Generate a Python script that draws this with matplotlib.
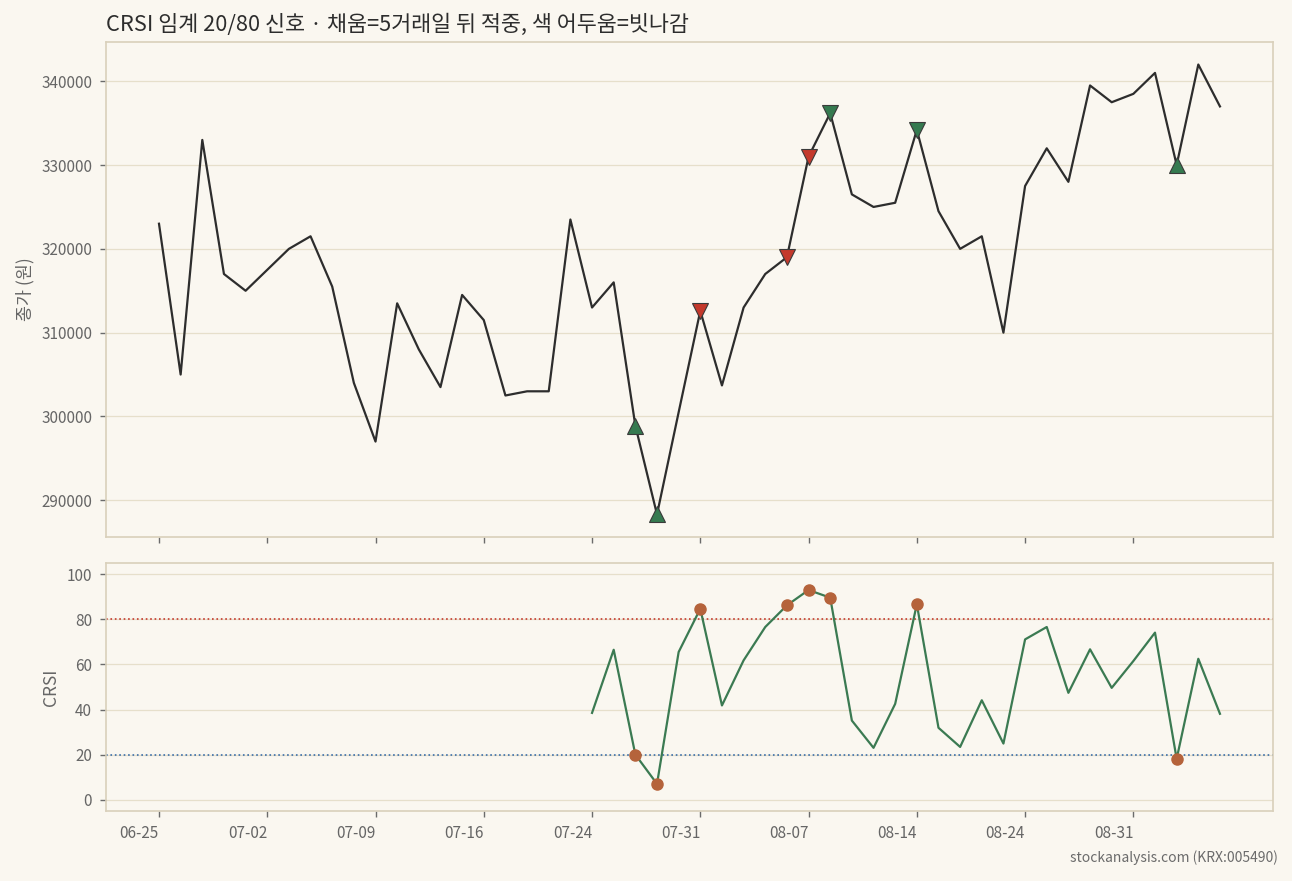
import matplotlib
matplotlib.use("Agg")
import matplotlib.pyplot as plt

plt.rcParams['font.family'] = ['Noto Sans CJK KR', 'DejaVu Sans']

# x축 눈금 (거래일 인덱스 5개마다)
tick_idx = [0, 5, 10, 15, 20, 25, 30, 35, 40, 45]
tick_labels = ['06-25', '07-02', '07-09', '07-16', '07-24',
               '07-31', '08-07', '08-14', '08-24', '08-31']

# 종가 (50 거래일)
close = [323000, 305000, 333000, 317000, 315000, 317500, 320000, 321500, 315500, 304000,
         297000, 313500, 308000, 303500, 314500, 311500, 302500, 303000, 303000, 323500,
         313000, 316000, 298900, 288300, 300500, 312600, 303700, 313000, 317000, 319000,
         331000, 336200, 326500, 325000, 325500, 334200, 324500, 320000, 321500, 310000,
         327500, 332000, 328000, 339500, 337500, 338500, 341000, 330000, 342000, 337000]

# CRSI (인덱스 20부터)
crsi_start = 20
crsi = [38.5, 66.5, 20.0, 7.0, 65.5, 84.7, 41.8, 61.8, 76.6, 86.2,
        93.0, 89.6, 35.1, 23.0, 42.5, 86.7, 31.9, 23.4, 44.1, 24.9,
        71.1, 76.6, 47.4, 66.7, 49.6, 61.5, 74.1, 18.1, 62.5, 38.1]

# 신호: 인덱스, 방향(buy/sell), 5거래일 뒤 적중 여부
sig_idx = [22, 23, 25, 29, 30, 31, 35, 47]
sig_dir = ['buy', 'buy', 'sell', 'sell', 'sell', 'sell', 'sell', 'buy']
sig_hit = [True, True, False, False, False, True, True, True]

bg = '#faf7f0'
spine_c = '#d9d0bb'
grid_c = '#e6dfcb'
text_c = '#666666'

fig = plt.figure(figsize=(12.92, 8.81), dpi=100, facecolor=bg)
ax1 = fig.add_axes([0.0820, 0.3905, 0.9033, 0.5618])
ax2 = fig.add_axes([0.0820, 0.0795, 0.9033, 0.2815], sharex=ax1)

for ax in (ax1, ax2):
    ax.set_facecolor(bg)
    for s in ax.spines.values():
        s.set_color(spine_c)
        s.set_linewidth(1.2)
    ax.grid(axis='y', color=grid_c, linewidth=0.9)
    ax.set_axisbelow(True)
    ax.tick_params(labelcolor=text_c, labelsize=11, length=4.5, width=1, pad=5.5,
                   direction='out', color='#6b6b6b')

x = list(range(len(close)))
ax1.plot(x, close, color='#2d2d2d', linewidth=1.6, zorder=2)

for i, d, h in zip(sig_idx, sig_dir, sig_hit):
    m = '^' if d == 'buy' else 'v'
    c = '#357a50' if h else '#c4392c'
    ax1.plot(i, close[i], marker=m, markersize=12, color=c,
             markeredgecolor='#3a3a3a', markeredgewidth=0.8, linestyle='none', zorder=3)

ax1.set_ylabel('종가 (원)', color=text_c, fontsize=12.5, labelpad=5)
ax1.tick_params(axis='x', labelbottom=False)
ax1.set_title('CRSI 임계 20/80 신호 · 채움=5거래일 뒤 적중, 색 어두움=빗나감',
              loc='left', fontsize=15.7, color='#2d2d2d', pad=8)

cx = list(range(crsi_start, crsi_start + len(crsi)))
ax2.plot(cx, crsi, color='#3b7a52', linewidth=1.6, zorder=2)
ax2.axhline(80, color='#c4392c', linestyle=':', linewidth=1.2, zorder=1)
ax2.axhline(20, color='#3a6ea8', linestyle=':', linewidth=1.2, zorder=1)
ax2.plot(sig_idx, [crsi[i - crsi_start] for i in sig_idx], 'o', color='#b5633b',
         markersize=8, zorder=3)
ax2.set_ylim(-5, 105)
ax2.set_yticks([0, 20, 40, 60, 80, 100])
ax2.set_ylabel('CRSI', color=text_c, fontsize=12.5, labelpad=5)
ax2.set_xticks(tick_idx)
ax2.set_xticklabels(tick_labels, ha='right')

fig.text(0.9892, 0.026, 'stockanalysis.com (KRX:005490)', ha='right', va='center',
         fontsize=10, color='#6b6b6b')

fig.savefig('out.png', dpi=100, facecolor=bg)
